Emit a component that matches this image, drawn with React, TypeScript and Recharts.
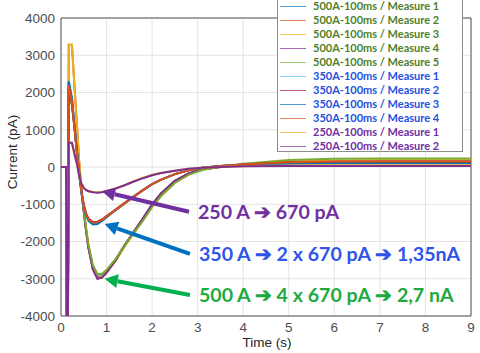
import React from 'react';
import { LineChart, Line, XAxis, YAxis, CartesianGrid, Legend, ReferenceLine, ReferenceArea } from 'recharts';

const TIME = [0, 0.11, 0.13, 0.15, 0.17, 0.24, 0.3, 0.35, 0.4, 0.45, 0.5, 0.55, 0.6, 0.7, 0.8, 0.9, 1.0, 1.2, 1.4, 1.6, 1.8, 2.0, 2.2, 2.5, 2.8, 3.1, 3.5, 4.0, 5.0, 6.0, 7.0, 8.0, 9.0];

const S500_1 = [0, 0, -4600, -4600, 2250, 1800, 1100, 450, -100, -650, -1180, -1680, -2120, -2700, -2940, -2930, -2800, -2480, -2090, -1730, -1380, -1010, -710, -380, -180, -70, 0, 60, 130, 150, 160, 160, 160];
const S500_2 = [0, 0, -4600, -4600, 3280, 3280, 2100, 1150, 150, -620, -1180, -1700, -2150, -2740, -2990, -2960, -2830, -2500, -2100, -1740, -1390, -1010, -710, -370, -170, -60, 10, 70, 140, 160, 170, 170, 170];
const S500_3 = [0, 0, -4600, -4600, 3280, 3280, 2050, 1100, 120, -630, -1170, -1680, -2130, -2720, -2970, -2950, -2830, -2520, -2130, -1780, -1430, -1050, -740, -400, -190, -70, 0, 60, 140, 170, 180, 180, 180];
const S500_4 = [0, 0, -4600, -4600, 2100, 1700, 1050, 420, -120, -660, -1200, -1710, -2160, -2750, -3000, -2970, -2840, -2500, -2100, -1740, -1380, -1000, -700, -370, -170, -60, 0, 60, 120, 140, 150, 150, 150];
const S500_5 = [0, 0, -4600, -4600, 2000, 1650, 1000, 400, -100, -620, -1130, -1620, -2060, -2630, -2870, -2870, -2760, -2470, -2110, -1770, -1440, -1080, -780, -430, -210, -80, 10, 90, 190, 220, 230, 230, 230];
const S350_1 = [0, 0, -4600, -4600, 2300, 1850, 1050, 400, -200, -700, -1050, -1280, -1420, -1520, -1510, -1440, -1340, -1150, -970, -790, -620, -460, -340, -190, -90, -20, 30, 60, 100, 110, 110, 110, 110];
const S350_2 = [0, 0, -4600, -4600, 2100, 1700, 1000, 380, -180, -660, -1000, -1240, -1380, -1480, -1470, -1410, -1320, -1140, -960, -790, -620, -460, -340, -190, -90, -20, 30, 70, 120, 130, 130, 130, 130];
const S350_3 = [0, 0, -4600, -4600, 2300, 1850, 1050, 400, -200, -700, -1060, -1300, -1440, -1540, -1530, -1450, -1350, -1160, -980, -800, -620, -460, -340, -190, -90, -20, 30, 60, 90, 100, 100, 100, 100];
const S350_4 = [0, 0, -4600, -4600, 2200, 1750, 1000, 380, -190, -680, -1030, -1260, -1400, -1490, -1480, -1420, -1330, -1150, -970, -790, -620, -460, -340, -190, -90, -20, 30, 70, 130, 150, 150, 150, 150];
const S250_1 = [0, 0, -4600, -4600, 650, 650, 330, 80, -240, -440, -550, -610, -640, -670, -680, -670, -640, -570, -480, -380, -290, -210, -160, -100, -50, -20, 0, 20, 40, 50, 50, 50, 50];
const S250_2 = [0, 0, -4600, -4600, 650, 650, 330, 80, -250, -460, -560, -620, -650, -680, -690, -680, -650, -580, -490, -390, -300, -220, -160, -100, -50, -20, 0, 20, 30, 30, 30, 30, 30];

const SERIES_NAMES = [
  '500A-100ms / Measure 1', '500A-100ms / Measure 2', '500A-100ms / Measure 3', '500A-100ms / Measure 4', '500A-100ms / Measure 5',
  '350A-100ms / Measure 1', '350A-100ms / Measure 2', '350A-100ms / Measure 3', '350A-100ms / Measure 4',
  '250A-100ms / Measure 1', '250A-100ms / Measure 2',
];
const SERIES_VALUES = [S500_1, S500_2, S500_3, S500_4, S500_5, S350_1, S350_2, S350_3, S350_4, S250_1, S250_2];
const SERIES_COLORS = ['#0072BD', '#D95319', '#EDB120', '#7E2F8E', '#77AC30', '#4DBEEE', '#A2142F', '#0072BD', '#D95319', '#EDB120', '#7E2F8E'];
const LEGEND_TEXT_COLORS = ['#4F7F2A', '#4F7F2A', '#4F7F2A', '#4F7F2A', '#4F7F2A', '#2450E0', '#2450E0', '#2450E0', '#2450E0', '#7030A0', '#7030A0'];

const X_TICKS = [0, 1, 2, 3, 4, 5, 6, 7, 8, 9];
const Y_TICKS = [-4000, -3000, -2000, -1000, 0, 1000, 2000, 3000, 4000];

const ANNOTATION_TEXTS = ['250 A \u2794 670 pA', '350 A \u2794 2 x 670 pA \u2794 1,35nA', '500 A \u2794 4 x 670 pA \u2794 2,7 nA'];
const ANNOTATION_TEXT_COLORS = ['#7030A0', '#2F55E8', '#1DAA3F'];
const ANNOTATION_ARROW_COLORS = ['#7030A0', '#0070C0', '#00B050'];
const ANNOTATION_TAILS = [[2.81, -1203], [2.83, -2333], [2.83, -3435]];
const ANNOTATION_TIPS = [[0.9, -650], [0.96, -1530], [0.96, -3000]];

const data = TIME.map((t, i) => {
  const row: Record<string, number> = { t };
  SERIES_VALUES.forEach((s, k) => { row['s' + k] = s[i]; });
  return row;
});

const makeArrowShape = (idx: number) => (props: any) => {
  const { x1, y1, x2, y2 } = props;
  const dx = x2 - x1;
  const dy = y2 - y1;
  const len = Math.sqrt(dx * dx + dy * dy);
  const ux = dx / len;
  const uy = dy / len;
  const headLen = 13;
  const headW = 7;
  const bx = x2 - ux * headLen;
  const by = y2 - uy * headLen;
  const px = -uy;
  const py = ux;
  const color = ANNOTATION_ARROW_COLORS[idx];
  return (
    <g>
      <line x1={x1} y1={y1} x2={bx} y2={by} stroke={color} strokeWidth={4} />
      <polygon points={`${x2},${y2} ${bx + px * headW},${by + py * headW} ${bx - px * headW},${by - py * headW}`} fill={color} />
      <text x={x1 + 9} y={y1} dominantBaseline="central" fontFamily="Lato, 'Open Sans', sans-serif" fontWeight="bold" fontSize={19.6} fill={ANNOTATION_TEXT_COLORS[idx]}>
        {ANNOTATION_TEXTS[idx]}
      </text>
    </g>
  );
};

const LegendBox = () => (
  <div style={{ width: 186, height: 160, boxSizing: 'border-box', border: '1px solid #8c8c8c', background: '#fff', paddingTop: 6, fontFamily: "Lato, 'Open Sans', sans-serif" }}>
    {SERIES_NAMES.map((name, i) => (
      <div key={name} style={{ height: 14, display: 'flex', alignItems: 'center' }}>
        <div style={{ marginLeft: 2, width: 26, height: 1, background: SERIES_COLORS[i], opacity: 0.7 }} />
        <span style={{ marginLeft: 7, fontSize: 11, fontWeight: 'bold', color: LEGEND_TEXT_COLORS[i], whiteSpace: 'nowrap', lineHeight: '14px' }}>{name}</span>
      </div>
    ))}
  </div>
);

const YLabel = (props: any) => {
  const vb = props.viewBox || { x: 0, y: 0, width: 0, height: 0 };
  const cx = 12;
  const cy = vb.y + vb.height / 2 - 15;
  return (
    <text x={cx} y={cy} transform={`rotate(-90, ${cx}, ${cy})`} textAnchor="middle" dominantBaseline="central" fontFamily="'Liberation Sans', Arial, sans-serif" fontSize={13.5} fill="#262626">
      Current (pA)
    </text>
  );
};

const XLabel = (props: any) => {
  const vb = props.viewBox || { x: 0, y: 0, width: 0, height: 0 };
  return (
    <text x={vb.x + vb.width / 2 + 1} y={vb.y + 26} textAnchor="middle" dominantBaseline="central" fontFamily="'Liberation Sans', Arial, sans-serif" fontSize={13.5} fill="#262626">
      Time (s)
    </text>
  );
};

export default function App() {
  const tickStyle = { fontFamily: "'Liberation Sans', Arial, sans-serif", fontSize: 13.5, fill: '#4d4d4d' };
  return (
    <div style={{ position: 'absolute', left: 0, top: 0, width: 480, height: 353, background: '#fff' }}>
      <LineChart width={480} height={353} data={data} margin={{ top: 18, right: 9, left: 0, bottom: 0 }}>
        <CartesianGrid stroke="#e3e3e3" strokeWidth={1} />
        <XAxis
          dataKey="t"
          type="number"
          domain={[0, 9]}
          ticks={X_TICKS}
          height={37}
          tickSize={4}
          tickMargin={2}
          tickLine={false}
          axisLine={false}
          tick={tickStyle}
          label={<XLabel />}
        />
        <YAxis
          type="number"
          domain={[-4000, 4000]}
          ticks={Y_TICKS}
          allowDataOverflow
          width={61}
          tickSize={4}
          tickMargin={2}
          tickLine={false}
          axisLine={false}
          tick={tickStyle}
          label={<YLabel />}
        />
        <ReferenceArea x1={0} x2={9} y1={-4000} y2={4000} fill="none" stroke="#555" strokeWidth={1} ifOverflow="visible" />
        {SERIES_NAMES.map((name, i) => (
          <Line
            key={name}
            type="linear"
            dataKey={'s' + i}
            name={name}
            stroke={SERIES_COLORS[i]}
            strokeWidth={2}
            dot={false}
            isAnimationActive={false}
          />
        ))}
        {ANNOTATION_TEXTS.map((txt, i) => (
          <ReferenceLine
            key={txt}
            segment={[
              { x: ANNOTATION_TAILS[i][0], y: ANNOTATION_TAILS[i][1] },
              { x: ANNOTATION_TIPS[i][0], y: ANNOTATION_TIPS[i][1] },
            ]}
            shape={makeArrowShape(i)}
            ifOverflow="visible"
          />
        ))}
        <Legend
          layout="vertical"
          align="center"
          verticalAlign="middle"
          content={<LegendBox />}
          wrapperStyle={{ left: 277, top: -8, width: 186, height: 160 }}
        />
      </LineChart>
    </div>
  );
}
